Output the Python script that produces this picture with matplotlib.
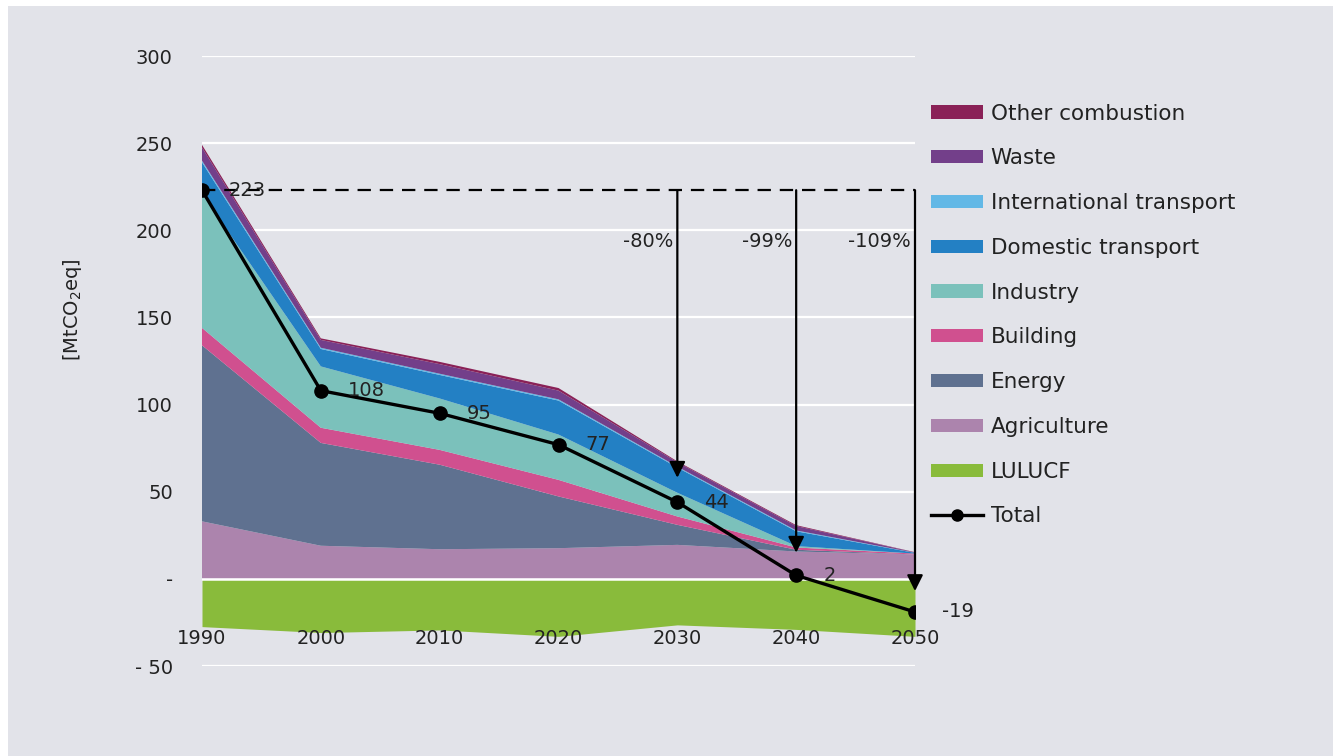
import numpy as np
import matplotlib.pyplot as plt
from matplotlib.patches import Patch, Rectangle
from matplotlib.lines import Line2D

plt.rcParams['font.family'] = ['DejaVu Sans']

# Data (MtCO2eq)
years = [1990, 2000, 2010, 2020, 2030, 2040, 2050]
agriculture = [33, 19, 17, 17.6, 19.5, 15.7, 14]
energy = [101, 59, 48.5, 29.7, 11.5, 1, 0]
building = [10, 8.7, 8.5, 9.5, 4.8, 1.3, 0.5]
industry = [77, 35.2, 29.5, 26, 13.6, 0.8, 0]
domestic_transport = [18, 10, 13.5, 19.5, 14.5, 8.5, 0.4]
international_transport = [1, 0.7, 0.7, 0.7, 0.5, 0.5, 0.1]
waste = [7.5, 4.5, 5.5, 5, 2.5, 2.5, 0.2]
other_combustion = [1.5, 0.9, 1.3, 1.5, 0.5, 0.5, 0.1]
lulucf = [-27.4, -30.8, -29.3, -33, -26.4, -29, -33]
total = [223, 108, 95, 77, 44, 2, -19]

# Reduction vs 1990 shown with arrows
arrow_years = [2030, 2040, 2050]
arrow_ends = [58, 15, -7]
arrow_labels = ['-80%', '-99%', '-109%']

y_ticks = [300, 250, 200, 150, 100, 50, 0, -50]
y_ticklabels = ['300', '250', '200', '150', '100', '50', '-', '- 50']

series = [agriculture, energy, building, industry, domestic_transport,
          international_transport, waste, other_combustion]
names = ['Agriculture', 'Energy', 'Building', 'Industry', 'Domestic transport',
         'International transport', 'Waste', 'Other combustion']
colors = ['#ac84ad', '#5f7190', '#d0508f', '#7bc1bb', '#2380c4',
          '#62b8e6', '#733f8a', '#8a2157']
lulucf_color = '#89bb3b'
bg = '#e2e3e9'
txt = '#222222'
fs = 14

fig = plt.figure(figsize=(13.33, 7.56), dpi=100, facecolor='white')
fig.patches.append(Rectangle((8 / 1333, 0), 1, 1 - 6 / 756, transform=fig.transFigure,
                             facecolor=bg, edgecolor='none', zorder=-10))
ax = fig.add_axes([202 / 1333, 1 - 666 / 756, 713 / 1333, 610 / 756])
ax.set_facecolor(bg)

ax.set_xlim(1990, 2050)
ax.set_ylim(-50, 300)

# grid
ax.set_yticks(y_ticks)
ax.set_yticklabels(y_ticklabels)
ax.yaxis.grid(True, color='white', lw=1.6, zorder=0)
ax.set_axisbelow(True)
for s in ax.spines.values():
    s.set_visible(False)
ax.tick_params(axis='y', length=0, pad=21, labelsize=fs, labelcolor=txt)
ax.set_xticks([])

# stacked areas
ax.stackplot(years, *series, colors=colors, linewidth=0, zorder=2)
ax.fill_between(years, lulucf, 0, color=lulucf_color, linewidth=0, zorder=2)
ax.axhline(0, color='white', lw=1.8, zorder=3)

# x labels
for yr in years:
    ax.text(yr, -34, str(yr), ha='center', va='center', fontsize=fs, color=txt, zorder=6)

# baseline dashed line and arrows
ax.plot([years[0], years[-1]], [total[0], total[0]], color='black', lw=1.6,
        dashes=(6, 4), zorder=4)
for yr, end, lab in zip(arrow_years, arrow_ends, arrow_labels):
    ax.annotate('', xy=(yr, end), xytext=(yr, total[0]),
                arrowprops=dict(arrowstyle='-|>', color='black', lw=1.6,
                                mutation_scale=24, shrinkA=0, shrinkB=0),
                zorder=5)
    ax.annotate(lab, xy=(yr, 193.5), xytext=(-4, 0), textcoords='offset pixels',
                ha='right', va='center', fontsize=fs, color=txt)

# total line
ax.plot(years, total, color='black', lw=2.4, marker='o', markersize=9.5, zorder=6)
for yr, v in zip(years, total):
    ax.annotate(str(v), xy=(yr, v), xytext=(27, 0), textcoords='offset pixels',
                ha='left', va='center', fontsize=fs, color=txt, zorder=7)

ax.set_ylabel('[MtCO$_{\\mathregular{2}}$eq]', fontsize=fs, color=txt)
ax.yaxis.set_label_coords(-0.165, 0.585)

# legend
handles = [Patch(facecolor=c, edgecolor='none', label=n)
           for c, n in zip(colors[::-1], names[::-1])]
handles.append(Patch(facecolor=lulucf_color, edgecolor='none', label='LULUCF'))
handles.append(Line2D([], [], color='black', lw=2.4, marker='o', markersize=8, label='Total'))
fig.legend(handles=handles, loc='upper left', bbox_to_anchor=(922 / 1333, 1 - 95 / 756),
           frameon=False, fontsize=15.5, handlelength=2.42, handleheight=0.56,
           handletextpad=0.37, labelspacing=1.15, labelcolor=txt, borderaxespad=0)

fig.savefig('out.png', dpi=100, facecolor=fig.get_facecolor())
